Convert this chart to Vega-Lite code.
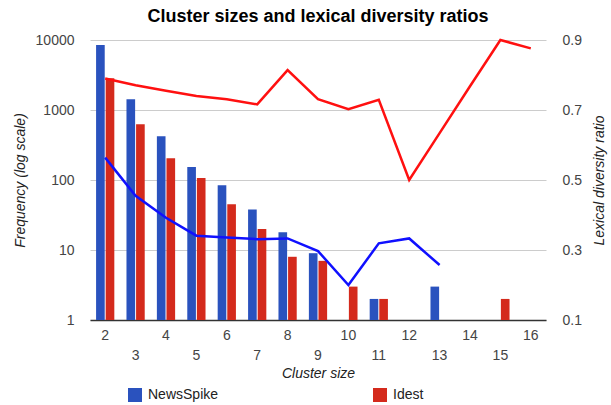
{
  "$schema": "https://vega.github.io/schema/vega-lite/v6.json",
  "width": 456,
  "height": 280,
  "autosize": {"type": "none"},
  "padding": {"left": 90, "top": 40, "right": 65, "bottom": 85},
  "background": "white",
  "config": {
    "font": "Liberation Sans",
    "view": {"stroke": null},
    "axis": {"labelFont": "Liberation Sans", "titleFont": "Liberation Sans", "labelColor": "#444", "titleColor": "#222", "labelFontSize": 14, "titleFontSize": 14, "titleFontWeight": "normal", "titleFontStyle": "italic", "ticks": false}
  },
  "title": {"text": "Cluster sizes and lexical diversity ratios", "fontSize": 18, "fontWeight": "bold", "font": "Liberation Sans", "color": "#000", "anchor": "middle", "offset": 7},
  "data": {"values": [
    {"size": 2, "series": "NewsSpike", "freq": 8500, "ratio": 0.564},
    {"size": 3, "series": "NewsSpike", "freq": 1420, "ratio": 0.455},
    {"size": 4, "series": "NewsSpike", "freq": 421, "ratio": 0.392},
    {"size": 5, "series": "NewsSpike", "freq": 153, "ratio": 0.341},
    {"size": 6, "series": "NewsSpike", "freq": 84, "ratio": 0.336},
    {"size": 7, "series": "NewsSpike", "freq": 38, "ratio": 0.331},
    {"size": 8, "series": "NewsSpike", "freq": 18, "ratio": 0.333},
    {"size": 9, "series": "NewsSpike", "freq": 9, "ratio": 0.297},
    {"size": 10, "series": "NewsSpike", "freq": 1, "ratio": 0.2},
    {"size": 11, "series": "NewsSpike", "freq": 2, "ratio": 0.319},
    {"size": 12, "series": "NewsSpike", "freq": 1, "ratio": 0.333},
    {"size": 13, "series": "NewsSpike", "freq": 3, "ratio": 0.257},
    {"size": 14, "series": "NewsSpike", "freq": null, "ratio": null},
    {"size": 15, "series": "NewsSpike", "freq": null, "ratio": null},
    {"size": 16, "series": "NewsSpike", "freq": null, "ratio": null},
    {"size": 2, "series": "Idest", "freq": 2840, "ratio": 0.79},
    {"size": 3, "series": "Idest", "freq": 625, "ratio": 0.771},
    {"size": 4, "series": "Idest", "freq": 204, "ratio": 0.755},
    {"size": 5, "series": "Idest", "freq": 107, "ratio": 0.74},
    {"size": 6, "series": "Idest", "freq": 45, "ratio": 0.731},
    {"size": 7, "series": "Idest", "freq": 20, "ratio": 0.716},
    {"size": 8, "series": "Idest", "freq": 8, "ratio": 0.814},
    {"size": 9, "series": "Idest", "freq": 7, "ratio": 0.731},
    {"size": 10, "series": "Idest", "freq": 3, "ratio": 0.702},
    {"size": 11, "series": "Idest", "freq": 2, "ratio": 0.729},
    {"size": 12, "series": "Idest", "freq": 1, "ratio": 0.5},
    {"size": 13, "series": "Idest", "freq": null, "ratio": 0.634},
    {"size": 14, "series": "Idest", "freq": null, "ratio": 0.768},
    {"size": 15, "series": "Idest", "freq": 2, "ratio": 0.9},
    {"size": 16, "series": "Idest", "freq": 1, "ratio": 0.876}
  ]},
  "encoding": {
    "x": {
      "field": "size", "type": "ordinal",
      "scale": {"domain": [2,3,4,5,6,7,8,9,10,11,12,13,14,15,16], "paddingInner": 0.4, "paddingOuter": 0.2},
      "axis": {"title": "Cluster size", "labelAngle": 0, "labelPadding": 8, "titlePadding": 4, "domainColor": "#333", "domainWidth": 1.5, "grid": false, "labelLineHeight": 20, "labelBaseline": "top",
        "labelExpr": "datum.value % 2 == 1 ? ['', datum.label] : datum.label"}
    }
  },
  "layer": [
    {
      "transform": [{"filter": "datum.freq != null"}],
      "mark": {"type": "bar"},
      "encoding": {
        "xOffset": {"field": "series", "type": "nominal", "sort": ["NewsSpike", "Idest"], "scale": {"domain": ["NewsSpike", "Idest"], "paddingInner": 0.1}},
        "y": {"field": "freq", "type": "quantitative",
          "scale": {"type": "log", "domain": [1, 10000]},
          "axis": {"title": "Frequency (log scale)", "values": [1, 10, 100, 1000, 10000], "format": "d", "labelPadding": 16, "titlePadding": 8, "domain": false, "gridColor": "#cccccc", "grid": true}},
        "y2": {"datum": 1},
        "color": {"field": "series", "type": "nominal",
          "scale": {"domain": ["NewsSpike", "Idest"], "range": ["#2a52be", "#d42a1c"]},
          "legend": {"title": null, "orient": "none", "legendX": 38, "legendY": 348, "direction": "horizontal", "symbolType": "square", "symbolSize": 196, "symbolStrokeWidth": 0, "labelFontSize": 14, "labelColor": "#222", "labelFont": "Liberation Sans", "columnPadding": 154, "labelOffset": 6}}
      }
    },
    {
      "transform": [{"filter": "datum.ratio != null"}],
      "mark": {"type": "line", "strokeWidth": 2.5},
      "encoding": {
        "y": {"field": "ratio", "type": "quantitative",
          "scale": {"domain": [0.1, 0.9], "zero": false, "nice": false},
          "axis": {"orient": "right", "title": "Lexical diversity ratio", "values": [0.1, 0.3, 0.5, 0.7, 0.9], "format": ".1f", "labelPadding": 16, "titlePadding": 25, "titleAngle": 270, "domain": false, "grid": false}},
        "stroke": {"field": "series", "type": "nominal",
          "scale": {"domain": ["NewsSpike", "Idest"], "range": ["#1010ff", "#ff1010"]},
          "legend": null}
      }
    }
  ],
  "resolve": {"scale": {"y": "independent"}}
}
